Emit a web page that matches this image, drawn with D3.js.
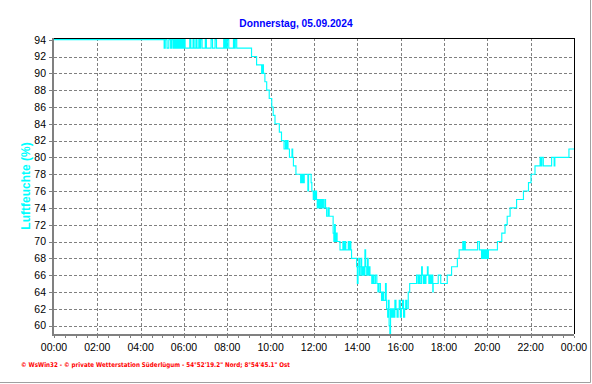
<!DOCTYPE html>
<html>
<head>
<meta charset="utf-8">
<script src="https://cdn.jsdelivr.net/npm/d3@7"></script>
<style>
  html, body { margin: 0; padding: 0; background: #fff; }
  svg { display: block; }
</style>
</head>
<body>
<svg id="chart" width="592" height="384"></svg>
<script>
// ---- data (minutes since midnight where value changes, humidity in %) ----
const title = "Donnerstag, 05.09.2024";
const yTitle = "Luftfeuchte (%)";
const footer = "\u00a9 WsWin32  -  \u00a9 private Wetterstation S\u00fcderl\u00fcgum  -  54\u00b052'19.2\" Nord; 8\u00b054'45.1\" Ost";
const xTickLabels = ["00:00","02:00","04:00","06:00","08:00","10:00","12:00","14:00","16:00","18:00","20:00","22:00","00:00"];
const yTickValues = [60,62,64,66,68,70,72,74,76,78,80,82,84,86,88,90,92,94];

const changeMinutes = [
  0,305,308,313,318,323,326,330,332,334,337,339,341,343,345,347,349,351,354,357,360,363,
  376,379,385,388,393,396,401,404,406,410,419,422,435,439,446,450,470,473,475,478,480,484,497,500,502,506,
  547,561,575,577,580,584,589,596,603,607,612,624,630,637,641,643,645,648,652,659,661,663,
  670,683,685,687,689,691,693,703,705,712,714,718,720,723,725,727,729,731,733,735,737,739,741,743,746,
  750,752,755,759,762,773,775,777,779,782,784,787,792,800,803,805,808,815,818,820,822,824,
  838,840,842,844,846,848,850,852,855,858,861,863,866,868,870,873,875,880,883,886,890,894,897,900,904,
  907,910,913,918,920,921,924,926,928,930,932,935,938,941,944,947,950,953,956,959,962,965,968,971,974,977,
  981,985,1004,1008,1011,1014,1018,1020,1023,1025,1027,1030,1034,1036,1038,1041,1044,1046,1049,1050,
  1064,1071,1089,1101,1117,1122,1132,1134,1136,1139,1173,1178,1184,1187,1190,1193,1196,1199,1201,1203,
  1228,1240,1249,1255,1263,1281,1300,1314,1321,1332,1346,1349,1351,1355,1378,1385,1387,1426,1440
];
const humidity = [
  94,93,94,93,94,93,94,93,94,93,94,93,94,93,94,93,94,93,94,93,94,93,
  94,93,94,93,94,93,94,93,94,93,94,93,94,93,94,93,94,93,94,93,94,93,94,93,94,93,
  92,91,90,91,90,89,88,87,86,85,84,83,82,81,82,81,82,81,80,81,80,79,
  78,77,78,77,78,77,78,76,78,77,76,75,76,75,76,75,74,75,74,75,74,75,74,75,74,
  75,74,73,74,73,71,70,72,70,71,70,70,69,70,69,70,69,70,69,70,69,68,
  67,65,67,68,66,67,68,66,67,66,69,67,66,68,66,67,66,65,66,65,66,65,64,65,64,
  63,64,63,65,63,62,61,63,60,59,62,61,62,61,63,62,61,62,63,61,62,63,61,62,63,62,
  64,65,66,65,66,65,67,66,65,66,65,66,67,66,65,66,65,66,64,65,
  66,65,66,67,68,69,70,69,70,69,70,69,68,69,68,69,68,69,68,69,
  70,71,72,73,74,75,76,77,78,79,80,79,80,79,80,79,80,81,81
];

// ---- layout ----
const W = 592, H = 384;
const plot = { left: 54, right: 574, top: 38, bottom: 334 };
const svg = d3.select("#chart");

const x = d3.scaleLinear().domain([0, 1440]).range([plot.left, plot.right]);
const y = d3.scaleLinear().domain([59, 94.2]).range([plot.bottom, plot.top]);

svg.append("rect").attr("width", W).attr("height", H).attr("fill", "#fff");

// window frame (right & bottom)
svg.append("line").attr("x1", W - 1.5).attr("x2", W - 1.5).attr("y1", 0).attr("y2", H - 1.5)
  .attr("stroke", "#a0a0a0").attr("stroke-width", 1);
svg.append("line").attr("x1", 0).attr("x2", W - 1.5).attr("y1", H - 1.5).attr("y2", H - 1.5)
  .attr("stroke", "#a0a0a0").attr("stroke-width", 1);

// title
svg.append("text").attr("x", W / 2).attr("y", 26.5).attr("text-anchor", "middle")
  .attr("font-family", "'Liberation Sans', Arial, sans-serif").attr("font-weight", "bold")
  .attr("font-size", 10.2).attr("fill", "#0000ff").text(title);

// grid
const gGrid = svg.append("g").attr("stroke", "#808080").attr("stroke-width", 1)
  .attr("stroke-dasharray", "3,2").attr("shape-rendering", "crispEdges");
const gridHours = d3.range(2, 24, 2);
gGrid.selectAll("line.v").data(gridHours).join("line")
  .attr("x1", d => Math.round(x(d * 60)) + 0.5).attr("x2", d => Math.round(x(d * 60)) + 0.5)
  .attr("y1", plot.top).attr("y2", plot.bottom);
gGrid.selectAll("line.h").data(yTickValues.filter(v => v < 94)).join("line")
  .attr("x1", plot.left).attr("x2", plot.right)
  .attr("y1", d => Math.round(y(d)) + 0.5).attr("y2", d => Math.round(y(d)) + 0.5);

// data line
const pts = changeMinutes.map((m, i) => [m, humidity[i]]);
const line = d3.line().x(d => x(d[0])).y(d => y(d[1])).curve(d3.curveStepAfter);
svg.append("path").datum(pts).attr("d", line).attr("fill", "none")
  .attr("stroke", "#00ffff").attr("stroke-width", 1.15);

// top & right border (black)
svg.append("path")
  .attr("d", `M${plot.left},${plot.top + 0.5}H${plot.right + 0.5}V${plot.bottom}`)
  .attr("fill", "none").attr("stroke", "#000").attr("stroke-width", 1).attr("shape-rendering", "crispEdges");

// axes
const axisFont = "'Liberation Sans', Arial, sans-serif";
const xAxis = d3.axisBottom(x).tickValues(d3.range(0, 1441, 30)).tickSize(4).tickFormat("");
const gx = svg.append("g").attr("transform", `translate(0,${plot.bottom})`).call(xAxis);
gx.select(".domain").attr("stroke", "#808080").attr("stroke-width", 2).attr("d", `M${plot.left - 1},1H${plot.right}`);
gx.selectAll(".tick line").attr("stroke", "#808080").attr("shape-rendering", "crispEdges").attr("y1", 2);

svg.append("g").selectAll("text").data(xTickLabels).join("text")
  .attr("x", (d, i) => x(i * 120)).attr("y", 351)
  .attr("text-anchor", "middle").attr("font-family", axisFont).attr("font-size", 10.5)
  .attr("fill", "#000").text(d => d);

const yAxis = d3.axisLeft(y).tickValues(yTickValues).tickSize(4).tickPadding(3)
  .tickFormat(d3.format("d"));
const gy = svg.append("g").attr("transform", `translate(${plot.left - 1},0)`).call(yAxis);
gy.select(".domain").attr("stroke", "#808080").attr("stroke-width", 2).attr("d", `M0,${plot.top}V${plot.bottom + 2}`);
gy.selectAll(".tick line").attr("stroke", "#808080").attr("shape-rendering", "crispEdges").attr("x2", -4).attr("x1", -1);
gy.selectAll(".tick text").attr("font-family", axisFont).attr("font-size", 10.5).attr("fill", "#000");

// y title
svg.append("text").attr("transform", `translate(30,${(plot.top + plot.bottom) / 2}) rotate(-90)`)
  .attr("text-anchor", "middle").attr("font-family", "'Liberation Sans', Arial, sans-serif")
  .attr("font-weight", "bold").attr("font-size", 12).attr("fill", "#00ffff").text(yTitle);

// footer
svg.append("text").attr("x", 21).attr("y", 366.5)
  .attr("font-family", "'DejaVu Sans', Verdana, sans-serif").attr("font-weight", "bold")
  .attr("font-size", 6.5).attr("fill", "#ff0000")
  .attr("textLength", 269).attr("lengthAdjust", "spacingAndGlyphs").text(footer);
</script>
</body>
</html>
